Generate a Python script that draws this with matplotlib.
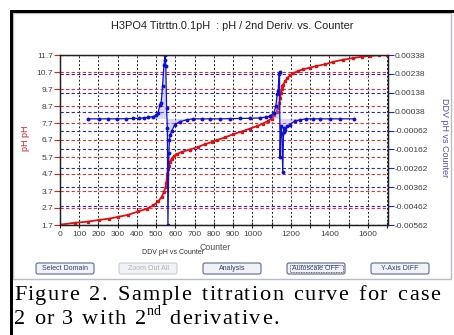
import matplotlib
matplotlib.use("Agg")
import matplotlib.pyplot as plt
from matplotlib.patches import Rectangle, FancyBboxPatch
from matplotlib.font_manager import FontProperties
from matplotlib.transforms import blended_transform_factory

plt.rcParams['font.family'] = ['Liberation Sans', 'DejaVu Sans']

# titration curve: counter vs pH
counter_ph = [0, 78, 145, 203, 254, 303, 355, 407, 450, 485, 511, 528, 540, 549, 553,
              557, 562, 566, 572, 580, 592, 606, 632, 675, 718, 753, 790, 814, 860, 900,
              945, 987, 1025, 1056, 1080, 1100, 1115, 1126, 1133, 1139, 1144, 1148, 1152,
              1156, 1160, 1170, 1181, 1195, 1212, 1235, 1264, 1300, 1333, 1380, 1420,
              1470, 1524, 1570, 1610, 1660, 1700]
ph = [1.72, 1.83, 1.9, 2.0, 2.07, 2.18, 2.3, 2.5, 2.65, 2.85, 3.09, 3.34, 3.64, 3.95, 4.2,
      4.72, 5.0, 5.2, 5.42, 5.6, 5.75, 5.86, 6.0, 6.14, 6.29, 6.45, 6.58, 6.69, 6.86, 7.04,
      7.2, 7.37, 7.52, 7.67, 7.82, 7.96, 8.15, 8.35, 8.6, 8.85, 9.15, 9.44, 9.68,
      9.85, 9.93, 10.15, 10.33, 10.5, 10.62, 10.75, 10.86, 10.96, 11.05, 11.16, 11.3,
      11.42, 11.52, 11.6, 11.65, 11.69, 11.72]

# 2nd derivative
counter_ddv = [144, 203, 250, 296, 343, 379, 410, 436, 457, 483, 498, 509, 519, 526, 533,
               540, 544, 546, 550, 554, 558, 561, 566, 569, 573, 580, 597, 623, 658, 693,
               736, 779, 831, 883, 935, 987, 1039, 1070, 1091, 1112, 1122, 1129, 1134,
               1139, 1141, 1144, 1148, 1153, 1158, 1162, 1166, 1172, 1181, 1195, 1221,
               1247, 1281, 1316, 1351, 1403, 1458, 1530]
ddv = [0.0, 0.0, 0.0, 0.0, 0.00001, 0.00002, 0.00003, 0.00005, 0.00008, 0.00012, 0.00018,
       0.0003, 0.00072, 0.00086, 0.00172, 0.00283, 0.0031, 0.00338, 0.0028, 0.0006,
       -0.0005, -0.00562, -0.0018, -0.0011, -0.00085, -0.00066, -0.0003, -0.00015,
       -0.00005, 0.0, 0.0, 0.0, 0.0, 0.00001, 0.00002, 0.00003, 0.00005, 0.0001, 0.00014,
       0.00033, 0.00068, 0.0013, 0.0015, 0.0024, 0.0025, -0.002, -0.0004, -0.0008,
       -0.0028, -0.0007, -0.0005, -0.0006, -0.0004, -0.0003, -0.00012, -0.00005, 0.0,
       0.0, 0.0, 0.0, 0.0, 0.0]

x_ticks = list(range(0, 1800, 100))
x_labels = ['0', '100', '200', '300', '400', '500', '600', '700', '800', '900', '1000',
            '', '1200', '', '1400', '', '1600', '']
left_ticks = [1.7, 2.7, 3.7, 4.7, 5.7, 6.7, 7.7, 8.7, 9.7, 10.7, 11.7]
right_ticks = [0.00338, 0.00238, 0.00138, 0.00038, -0.00062, -0.00162, -0.00262,
               -0.00362, -0.00462, -0.00562]
buttons = ['Select Domain', 'Zoom Out All', 'Analysis', 'Autoscale OFF', 'Y-Axis DIFF']

W, H = 454, 335
fig = plt.figure(figsize=(W / 100, H / 100), dpi=100)
renderer = fig.canvas.get_renderer()

# pixel overlay for the window chrome
bg = fig.add_axes([0, 0, 1, 1], zorder=0)
bg.set_xlim(0, W)
bg.set_ylim(H, 0)
bg.axis('off')
bg.add_patch(Rectangle((13, 13), 438, 266, fc='white', ec='#b8bcc8', lw=1))
bg.add_patch(Rectangle((10, 10), W - 10, 3, fc='black', ec='none'))
bg.add_patch(Rectangle((10, 10), 3, H - 10, fc='black', ec='none'))

bg.text(232, 26, 'H3PO4 Titrttn.0.1pH  : pH / 2nd Deriv. vs. Counter', ha='center',
        va='center', fontsize=7.9, color='#202020')
bg.text(26, 138, 'pH pH', rotation=90, ha='center', va='center', fontsize=6.5,
        color='#d02020')
bg.text(445, 138, 'DDV pH vs Counter', rotation=-90, ha='center', va='center',
        fontsize=6.5, color='#5050b0')
bg.text(173, 253, 'DDV pH vs Counter', ha='center', va='center', fontsize=5,
        color='#303030')
bg.text(199, 247, 'Counter', ha='left', va='center', fontsize=6.3, color='#505050')

bx = [36, 119, 203, 287, 371]
for x0, name in zip(bx, buttons):
    disabled = name == 'Zoom Out All'
    bg.add_patch(FancyBboxPatch((x0, 263), 58, 11, boxstyle='round,pad=0,rounding_size=2',
                                fc='#f0f2f6', ec='#c8ccd6' if disabled else '#5a6a90',
                                lw=0.8))
    if name == 'Autoscale OFF':
        bg.add_patch(Rectangle((x0 + 2.5, 265), 53, 7, fc='none', ec='#404040', lw=0.6,
                               ls=(0, (1, 1))))
    bg.text(x0 + 29, 268.8, name, ha='center', va='center', fontsize=5,
            color='#b0b0b0' if disabled else '#304070')


# caption, typeset with loose letter spacing like the justified pdf text
def spaced(x, y, s, size, track, word_extra):
    fp = FontProperties(family='Liberation Serif', size=size)
    ref_w = renderer.get_text_width_height_descent('l', fp, ismath=False)[0]
    spaces = 0
    for i, ch in enumerate(s):
        pre = renderer.get_text_width_height_descent(s[:i] + 'l', fp, ismath=False)[0] - ref_w
        if ch == ' ':
            spaces += 1
            continue
        bg.text(x + pre + i * track + spaces * word_extra, y, ch, fontproperties=fp,
                ha='left', va='baseline', color='black')
    full = renderer.get_text_width_height_descent(s + 'l', fp, ismath=False)[0] - ref_w
    return x + full + len(s) * track + spaces * word_extra


spaced(14, 300, 'Figure 2. Sample titration curve for case', 16, 1.4, 1.8)
xe = spaced(14, 324, '2 or 3 with 2', 16, 1.5, 0)
xe = spaced(xe - 1, 315, 'nd', 10, 0.5, 0)
spaced(xe + 1, 324, ' derivative.', 16, 1.5, 0)

# chart
ax = fig.add_axes([60 / W, 1 - 225 / H, 328 / W, 170 / H], zorder=1)
ax2 = ax.twinx()
ax.set_xlim(0, 1705)
ax.set_ylim(1.7, 11.7)
ax2.set_ylim(-0.00562, 0.00338)

ax.set_xticks(x_ticks)
ax.set_xticklabels(x_labels)
ax.set_yticks(left_ticks)
ax.set_yticklabels([f'{v:.1f}' for v in left_ticks])
ax2.set_yticks(right_ticks)
ax2.set_yticklabels([f'{v:.5f}' for v in right_ticks])

ax.xaxis.grid(True, color='#202020', ls=(0, (2, 2)), lw=0.7)
ax.yaxis.grid(True, color='#e03030', ls=(0, (3, 2)), lw=0.8)
ax.hlines(right_ticks, 0, 1, transform=blended_transform_factory(ax.transAxes, ax2.transData),
          colors='#2828c8', linestyles=(0, (3, 2)), lw=0.8, zorder=1)
ax.set_axisbelow(True)

ax.tick_params(axis='y', colors='#e02020', labelcolor='#404040', labelsize=6, length=4,
               width=0.8, pad=1)
ax.tick_params(axis='x', colors='#202020', labelcolor='#404040', labelsize=6, length=5,
               direction='inout', width=0.8, pad=1.5)
ax2.tick_params(axis='y', colors='#2020d0', labelcolor='#404040', labelsize=6, length=4,
                width=0.8, pad=1)
for a in (ax, ax2):
    for s in a.spines.values():
        s.set_color('#202020')
        s.set_linewidth(0.9)

ax.plot(counter_ph, ph, color='#e01010', lw=1.3, marker='s', ms=2, mec='#e01010', zorder=3)
ax2.fill(counter_ddv, ddv, color='#9090ff', alpha=0.35, lw=0)
ax2.plot(counter_ddv, ddv, color='#1010d0', lw=0.9, marker='o', ms=1.8, mec='#1010d0')

fig.savefig('out.png', dpi=100)
